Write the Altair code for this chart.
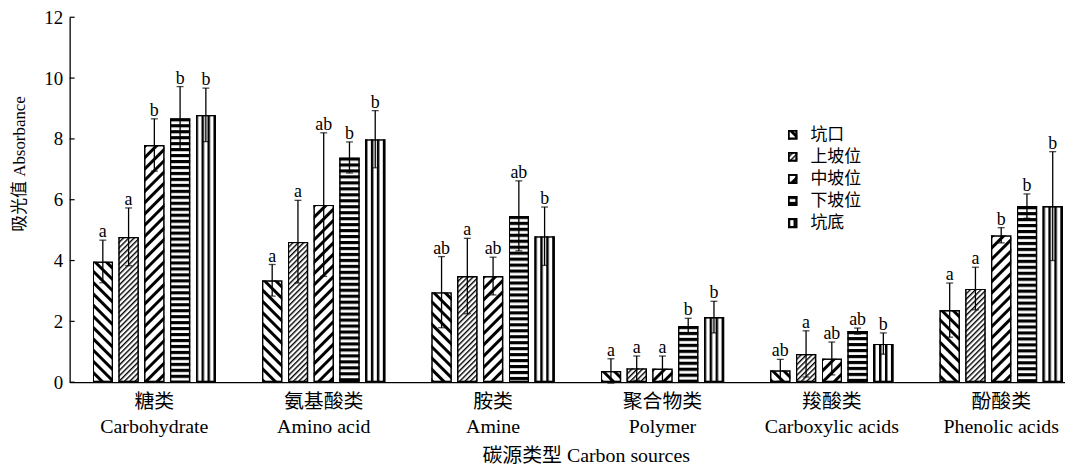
import base64
import altair as alt
import pandas as pd

# ---------------- data ----------------
categories_cn = ["糖类", "氨基酸类", "胺类", "聚合物类", "羧酸类", "酚酸类"]
categories_en = ["Carbohydrate", "Amino acid", "Amine", "Polymer", "Carboxylic acids", "Phenolic acids"]
positions = ["坑口", "上坡位", "中坡位", "下坡位", "坑底"]

mean_kengkou = [3.97, 3.35, 2.96, 0.37, 0.39, 2.37]
mean_shang = [4.78, 4.62, 3.49, 0.46, 0.93, 3.08]
mean_zhong = [7.80, 5.84, 3.49, 0.45, 0.78, 4.83]
mean_xia = [8.68, 7.39, 5.47, 1.85, 1.68, 5.79]
mean_kengdi = [8.79, 7.99, 4.80, 2.14, 1.27, 5.79]

err_kengkou = [0.70, 0.52, 1.17, 0.40, 0.36, 0.89]
err_shang = [0.95, 1.36, 1.24, 0.40, 0.76, 0.70]
err_zhong = [0.86, 2.36, 0.62, 0.41, 0.54, 0.25]
err_xia = [1.04, 0.51, 1.15, 0.25, 0.10, 0.40]
err_kengdi = [0.88, 0.94, 0.96, 0.52, 0.35, 1.79]

let_kengkou = ["a", "a", "ab", "a", "ab", "a"]
let_shang = ["a", "a", "a", "a", "a", "a"]
let_zhong = ["b", "ab", "ab", "a", "ab", "b"]
let_xia = ["b", "b", "ab", "b", "ab", "b"]
let_kengdi = ["b", "b", "b", "b", "b", "b"]

y_ticks = [0, 2, 4, 6, 8, 10, 12]

means = [mean_kengkou, mean_shang, mean_zhong, mean_xia, mean_kengdi]
errs = [err_kengkou, err_shang, err_zhong, err_xia, err_kengdi]
lets = [let_kengkou, let_shang, let_zhong, let_xia, let_kengdi]

# ---------------- hatch patterns (style) ----------------
def hatch_uri(body, pw, ph, rot, sw):
    tr = f' patternTransform="rotate({rot})"' if rot else ""
    svg = (
        '<svg xmlns="http://www.w3.org/2000/svg" width="100%" height="100%">'
        f'<defs><pattern id="p" patternUnits="userSpaceOnUse" width="{pw}" height="{ph}"{tr}>{body}</pattern></defs>'
        '<rect width="100%" height="100%" fill="#fff"/>'
        f'<rect width="100%" height="100%" fill="url(#p)" stroke="#000" stroke-width="{sw}"/>'
        "</svg>"
    )
    return "data:image/svg+xml;base64," + base64.b64encode(svg.encode("utf-8")).decode("ascii")

pattern_defs = [
    ('<rect x="0" y="0" width="3" height="8" fill="#000"/>', 8, 8, -45),
    ('<rect x="0" y="0" width="1.4" height="3.8" fill="#000"/>', 3.8, 3.8, 45),
    ('<rect x="0" y="0" width="3" height="8" fill="#000"/>', 8, 8, 45),
    ('<rect x="0" y="0" width="6" height="3.2" fill="#000"/>', 6, 6, 0),
    ('<rect x="0" y="0" width="2.5" height="6" fill="#000"/>', 6, 6, 0),
]
bar_uri = {p: hatch_uri(b, w, h, r, 3.0) for p, (b, w, h, r) in zip(positions, pattern_defs)}
leg_uri = {p: hatch_uri(b, w, h, r, 4.4) for p, (b, w, h, r) in zip(positions, pattern_defs)}

# ---------------- tables ----------------
cat_labels = [c + "|" + e for c, e in zip(categories_cn, categories_en)]
rows = []
for i, pos in enumerate(positions):
    for j, cat in enumerate(cat_labels):
        m, e = means[i][j], errs[i][j]
        rows.append(dict(category=cat, position=pos, mean=m, err=e, lo=m - e, hi=m + e,
                         zero=0, letter=lets[i][j], pattern=bar_uri[pos]))
df = pd.DataFrame(rows)

leg_df = pd.DataFrame(dict(position=positions, rank=list(range(len(positions))),
                           pattern=[leg_uri[p] for p in positions]))
tick_df = pd.DataFrame(dict(v=y_ticks))

FONT = "Liberation Serif, Noto Sans CJK SC"

x_enc = alt.X(
    "category:N", sort=cat_labels,
    scale=alt.Scale(range=[0, 1022], paddingInner=0.27, paddingOuter=0.135),
    axis=alt.Axis(
        title="碳源类型 Carbon sources", labelExpr="split(datum.label, '|')", labelAngle=0,
        ticks=False, labelPadding=9, labelLineHeight=26, labelBaseline="top",
        labelFontSize=20, labelColor="black", titleFontSize=20, titleFontWeight="normal",
        titleX=519, titleY=74, titleBaseline="middle", titleAlign="center", titleColor="black",
        domainColor="black", domainWidth=1.3, labelFont=FONT, titleFont=FONT,
    ),
)
xo_enc = alt.XOffset("position:N", sort=positions, scale=alt.Scale(paddingInner=0.2, paddingOuter=0))
y_axis = alt.Axis(
    values=y_ticks, ticks=False, grid=False, labelPadding=7, labelFontSize=19, labelColor="black",
    title="吸光值 Absorbance", titleFontSize=17, titleFontWeight="normal", titleColor="black",
    titleX=-50, titleY=147, titleAngle=270, titleAlign="center", titleBaseline="middle",
    domainColor="black", domainWidth=1.3, labelFont=FONT, titleFont=FONT,
)
y_scale = alt.Scale(domain=[0, 12], nice=False, zero=True)

def Y(field):
    return alt.Y(field, scale=y_scale, axis=y_axis, title="吸光值 Absorbance")

base = alt.Chart(df)

bars = base.mark_image(aspect=False).encode(
    x=x_enc, xOffset=xo_enc, y=Y("mean:Q"), y2="zero:Q", url="pattern:N"
)
errline = base.mark_rule(color="black", strokeWidth=1.3).encode(
    x=x_enc, xOffset=xo_enc, y=Y("lo:Q"), y2="hi:Q"
)
cap_hi = base.mark_tick(color="black", thickness=1.3, size=7, orient="horizontal").encode(
    x=x_enc, xOffset=xo_enc, y=Y("hi:Q")
)
cap_lo = base.mark_tick(color="black", thickness=1.3, size=7, orient="horizontal").encode(
    x=x_enc, xOffset=xo_enc, y=Y("lo:Q")
)
letters = base.mark_text(color="black", fontSize=18, baseline="alphabetic", dy=-3, font=FONT).encode(
    x=x_enc, xOffset=xo_enc, y=Y("hi:Q"), text="letter:N"
)
inticks = alt.Chart(tick_df).mark_rule(color="black", strokeWidth=1.2).encode(
    y=Y("v:Q"), x=alt.value(0), x2=alt.value(5)
)

main = alt.layer(bars, errline, cap_hi, cap_lo, letters, inticks)

leg_scale = alt.Scale(domain=[0, 4], range=[118, 207], nice=False, zero=False)
leg_base = alt.Chart(leg_df).transform_calculate(top="datum.rank - 0.23", bot="datum.rank + 0.23")
leg_icons = leg_base.mark_image(aspect=False).encode(
    x=alt.value(722), x2=alt.value(732),
    y=alt.Y("top:Q", scale=leg_scale, axis=None), y2="bot:Q", url="pattern:N"
)
leg_text = leg_base.mark_text(align="left", baseline="middle", fontSize=17, color="black", font=FONT).encode(
    x=alt.value(745), y=alt.Y("rank:Q", scale=leg_scale, axis=None), text="position:N"
)
legend = alt.layer(leg_icons, leg_text)

chart = (
    alt.layer(main, legend)
    .resolve_scale(y="independent")
    .properties(
        width=1001, height=367,
        autosize=alt.AutoSizeParams(type="none"),
        padding={"left": 62, "top": 8, "right": 0, "bottom": 86},
        background="white",
    )
    .configure(font=FONT)
    .configure_view(stroke=None)
)

chart.save("out.html", embed_options={"renderer": "svg", "actions": False})
